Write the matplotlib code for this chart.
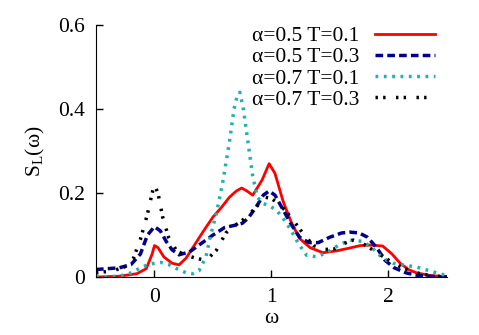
import matplotlib
matplotlib.use("Agg")
import matplotlib.pyplot as plt

plt.rcParams["font.family"] = ["Liberation Serif", "DejaVu Serif"]
plt.rcParams["mathtext.fontset"] = "custom"
plt.rcParams["mathtext.rm"] = "Liberation Serif"

# alpha=0.5, T=0.1
w_a5_t1 = [-0.5, -0.3, -0.15, -0.07, -0.02, 0.0, 0.03, 0.08, 0.15, 0.21, 0.27, 0.33,
           0.42, 0.5, 0.57, 0.64, 0.7, 0.745, 0.79, 0.84, 0.92, 0.98, 1.03, 1.1, 1.17,
           1.24, 1.33, 1.44, 1.55, 1.65, 1.76, 1.85, 1.95, 2.03, 2.1, 2.17, 2.24, 2.35, 2.5]
s_a5_t1 = [0.0, 0.002, 0.008, 0.02, 0.055, 0.075, 0.07, 0.048, 0.033, 0.029, 0.045, 0.071,
           0.11, 0.143, 0.165, 0.19, 0.205, 0.212, 0.205, 0.195, 0.231, 0.27, 0.247, 0.18, 0.13,
           0.092, 0.07, 0.058, 0.062, 0.068, 0.075, 0.076, 0.074, 0.055, 0.033, 0.018, 0.01, 0.004, 0.0]

# alpha=0.5, T=0.3
w_a5_t3 = [-0.5, -0.3, -0.2, -0.12, -0.06, 0.0, 0.05, 0.1, 0.15, 0.21, 0.3, 0.4, 0.5, 0.6,
           0.7, 0.75, 0.8, 0.87, 0.93, 0.98, 1.03, 1.1, 1.17, 1.24, 1.32, 1.4, 1.5, 1.6,
           1.67, 1.75, 1.82, 1.9, 1.97, 2.05, 2.15, 2.25, 2.35, 2.5]
s_a5_t3 = [0.018, 0.022, 0.03, 0.055, 0.1, 0.12, 0.11, 0.085, 0.065, 0.053, 0.06, 0.08, 0.1, 0.118,
           0.124, 0.128, 0.14, 0.167, 0.195, 0.205, 0.195, 0.16, 0.125, 0.095, 0.082, 0.082, 0.095, 0.105,
           0.107, 0.105, 0.095, 0.07, 0.04, 0.022, 0.01, 0.004, 0.002, 0.0]

# alpha=0.7, T=0.1
w_a7_t1 = [-0.5, -0.3, -0.2, -0.1, 0.0, 0.05, 0.12, 0.19, 0.27, 0.33, 0.38, 0.44, 0.48, 0.53,
           0.58, 0.64, 0.68, 0.71, 0.73, 0.76, 0.8, 0.84, 0.88, 0.93, 0.98, 1.04, 1.1, 1.16,
           1.23, 1.3, 1.39, 1.48, 1.57, 1.67, 1.78, 1.86, 1.95, 2.04, 2.14, 2.24, 2.35, 2.5]
s_a7_t1 = [0.0, 0.002, 0.01, 0.025, 0.033, 0.035, 0.03, 0.02, 0.01, 0.008, 0.015, 0.048, 0.1, 0.152,
           0.22, 0.32, 0.4, 0.435, 0.44, 0.4, 0.32, 0.24, 0.19, 0.175, 0.17, 0.16, 0.14, 0.115,
           0.08, 0.052, 0.048, 0.06, 0.075, 0.088, 0.085, 0.07, 0.045, 0.033, 0.028, 0.024, 0.015, 0.003]

# alpha=0.7, T=0.3
w_a7_t3 = [-0.5, -0.35, -0.25, -0.18, -0.12, -0.06, -0.02, 0.0, 0.03, 0.07, 0.12, 0.19, 0.27,
           0.34, 0.4, 0.45, 0.53, 0.61, 0.7, 0.79, 0.88, 0.95, 1.0, 1.06, 1.13, 1.2, 1.28, 1.36,
           1.45, 1.53, 1.62, 1.7, 1.78, 1.87, 1.96, 2.04, 2.14, 2.24, 2.35, 2.5]
s_a7_t3 = [0.01, 0.015, 0.025, 0.045, 0.09, 0.15, 0.2, 0.22, 0.2, 0.143, 0.095, 0.062, 0.052,
           0.046, 0.042, 0.042, 0.064, 0.105, 0.125, 0.143, 0.17, 0.19, 0.187, 0.175, 0.155, 0.13, 0.1, 0.075,
           0.066, 0.066, 0.08, 0.088, 0.08, 0.064, 0.048, 0.033, 0.02, 0.01, 0.004, 0.0]

labels = ["α=0.5 T=0.1", "α=0.5 T=0.3", "α=0.7 T=0.1", "α=0.7 T=0.3"]

fig = plt.figure(figsize=(4.79, 3.35), dpi=100)
ax = fig.add_axes([0.2004, 0.173, 0.7326, 0.752])

ax.plot(w_a5_t1, s_a5_t1, color="#ff0000", lw=2.0, label=labels[0])
ax.plot(w_a5_t3, s_a5_t3, color="#00008b", lw=2.5, dashes=(2.2, 1.2), label=labels[1])
ax.plot(w_a7_t1, s_a7_t1, color="#20b2aa", lw=2.5, dashes=(0.8, 1.6), label=labels[2])
ax.plot(w_a7_t3, s_a7_t3, color="black", lw=2.5, dashes=(0.7, 1.5, 0.7, 3.0), label=labels[3])

ax.set_xlim(-0.5, 2.5)
ax.set_ylim(0, 0.6)
ax.set_xticks([0, 1, 2])
ax.set_yticks([0, 0.2, 0.4, 0.6])
ax.set_yticklabels(["0", "0.2", "0.4", "0.6"])
ax.tick_params(direction="in", length=5, width=1, labelsize=15.5, pad=8)
for side in ["top", "right"]:
    ax.spines[side].set_visible(False)

ax.set_xlabel("ω", fontsize=15.5, labelpad=1)
ax.set_ylabel(r"S$_\mathrm{L}$(ω)", fontsize=15.5, labelpad=8)

ax.legend(loc="upper right", frameon=False, fontsize=15.5, markerfirst=False,
          handlelength=2.8, handletextpad=0.7, labelspacing=0.05, borderaxespad=0.0,
          bbox_to_anchor=(0.99, 1.03))

fig.savefig("out.png", dpi=100)
